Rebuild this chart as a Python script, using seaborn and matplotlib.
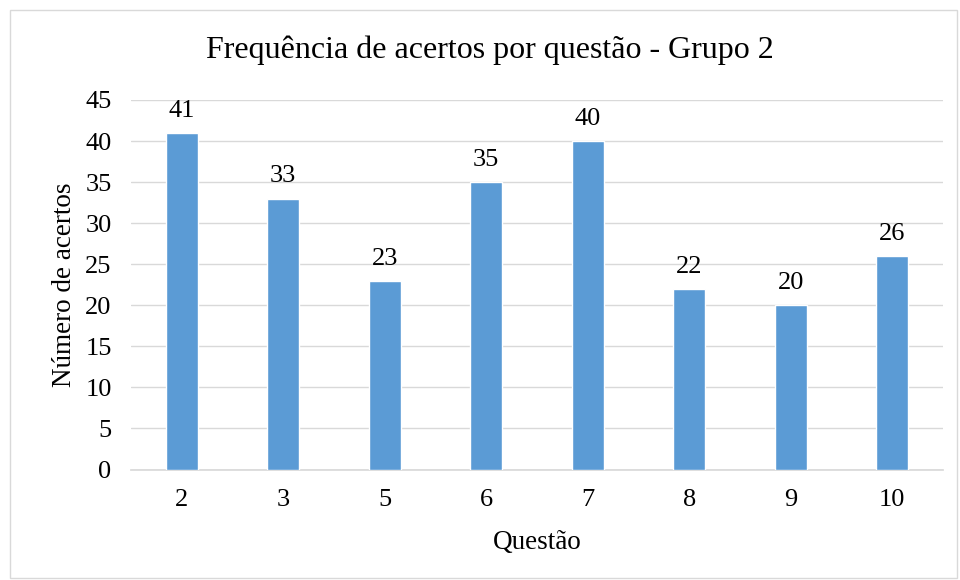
import matplotlib
matplotlib.use("Agg")
import matplotlib.pyplot as plt
import matplotlib.patches as patches
import pandas as pd
import seaborn as sns

# dados
questoes = ["2", "3", "5", "6", "7", "8", "9", "10"]
acertos = [41, 33, 23, 35, 40, 22, 20, 26]

df = pd.DataFrame({"Questão": questoes, "Número de acertos": acertos})

sns.set_theme(style="white")
plt.rcParams["font.family"] = ["Liberation Serif", "DejaVu Serif"]

fig = plt.figure(figsize=(9.6, 5.8), dpi=100)
ax = fig.add_axes([131 / 960, 1 - 469.5 / 580, (943 - 131) / 960, (469.5 - 100) / 580])

sns.barplot(data=df, x="Questão", y="Número de acertos", color="#5B9BD5",
            width=0.316, saturation=1, ax=ax, zorder=3)

ax.set_ylim(0, 45)
ax.set_yticks(range(0, 46, 5))
ax.set_xlim(-0.5, len(questoes) - 0.5)
ax.yaxis.grid(True, color="#D9D9D9", linewidth=1, zorder=0)
ax.set_axisbelow(True)
for s in ["top", "right", "left"]:
    ax.spines[s].set_visible(False)
ax.spines["bottom"].set_color("#D9D9D9")
ax.tick_params(axis="both", length=0, labelsize=19, colors="black")
ax.tick_params(axis="x", pad=14)
ax.tick_params(axis="y", pad=14)

for c in ax.containers:
    ax.bar_label(c, fmt="%d", padding=8, fontsize=19, color="black")

ax.set_xlabel("Questão", fontsize=19.5, color="black", labelpad=14)
ax.set_ylabel("Número de acertos", fontsize=19.5, color="black", labelpad=6)
fig.text(0.51, 1 - 50 / 580, "Frequência de acertos por questão - Grupo 2",
         ha="center", va="center", fontsize=23, color="black")

# moldura da figura
fig.patches.append(patches.Rectangle((10 / 960, 2 / 580), 947 / 960, 568 / 580,
                                     transform=fig.transFigure, fill=False,
                                     edgecolor="#D9D9D9", linewidth=1))

fig.savefig("out.png", dpi=100)
